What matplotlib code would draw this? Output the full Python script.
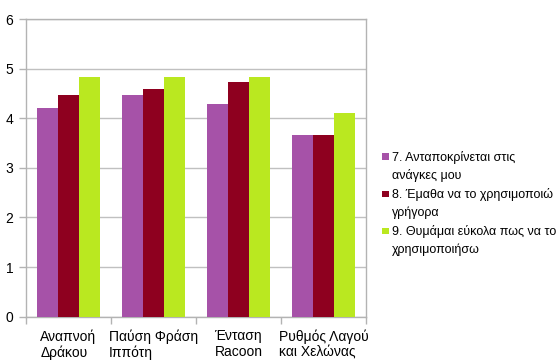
import matplotlib
matplotlib.use("Agg")
import matplotlib.pyplot as plt
from matplotlib.patches import Rectangle
from matplotlib.legend_handler import HandlerPatch
import numpy as np

plt.rcParams['font.family'] = ['Liberation Sans', 'DejaVu Sans']

categories = ["Αναπνοή\nΔράκου", "Παύση Φράση\nΙππότη", "Ένταση\nRacoon", "Ρυθμός Λαγού\nκαι Χελώνας"]
series_names = [
    "7. Ανταποκρίνεται στις\nανάγκες μου",
    "8. Έμαθα να το χρησιμοποιώ\nγρήγορα",
    "9. Θυμάμαι εύκολα πως να το\nχρησιμοποιήσω",
]
responds_to_needs = [4.2, 4.47, 4.28, 3.67]
learned_quickly = [4.47, 4.58, 4.74, 3.67]
easy_to_remember = [4.83, 4.83, 4.83, 4.1]
series_values = [responds_to_needs, learned_quickly, easy_to_remember]
colors = ["#A652A8", "#8E001F", "#BAE820"]

fig = plt.figure(figsize=(5.59, 3.6), dpi=100)
ax = fig.add_axes([26 / 559, 1 - 316.7 / 360, 340 / 559, (316.7 - 19) / 360])

x = np.arange(len(categories))
width = 0.247
bars = []
for i, (vals, c) in enumerate(zip(series_values, colors)):
    b = ax.bar(x + (i - 1) * width, vals, width, color=c, edgecolor='none', zorder=3)
    bars.append(b)

ax.set_xlim(-0.5, len(categories) - 0.5)
ax.set_ylim(0, 6)
ax.set_yticks(range(0, 7))
ax.yaxis.grid(True, color="#C0C0C0", linewidth=1.0, zorder=0)
ax.set_axisbelow(True)

ax.set_xticks(x)
ax.set_xticklabels(categories, fontsize=10, multialignment='left', linespacing=1.15)
ax.set_xticks(np.arange(-0.5, len(categories), 1.0), minor=True)
ax.tick_params(axis='x', which='major', length=0, pad=9)
ax.tick_params(axis='x', which='minor', length=5, color="#B3B3B3", width=1)
ax.tick_params(axis='y', length=5, color="#B3B3B3", width=1, labelsize=10, pad=4)

for s in ax.spines.values():
    s.set_color("#B3B3B3")
    s.set_linewidth(1)


class TopSquareHandler(HandlerPatch):
    """Small colour square aligned with the first line of a two-line label."""
    def create_artists(self, legend, orig_handle, xdescent, ydescent,
                       width, height, fontsize, trans):
        s = 6.5 * 72 / 100
        p = Rectangle((-xdescent, -ydescent + height - s + 1.0), s, s,
                      facecolor=orig_handle.patches[0].get_facecolor(),
                      edgecolor='none', transform=trans)
        return [p]


leg = fig.legend([b for b in bars], series_names,
                 loc='upper left', bbox_to_anchor=(379.5 / 559, 1 - 148 / 360),
                 frameon=False, fontsize=9, borderaxespad=0,
                 handlelength=0.5, handleheight=2.6, handletextpad=0.3,
                 labelspacing=0.55, borderpad=0.2,
                 handler_map={type(bars[0]): TopSquareHandler()})
for t in leg.get_texts():
    t.set_linespacing(1.5)

fig.savefig("out.png", dpi=100)
